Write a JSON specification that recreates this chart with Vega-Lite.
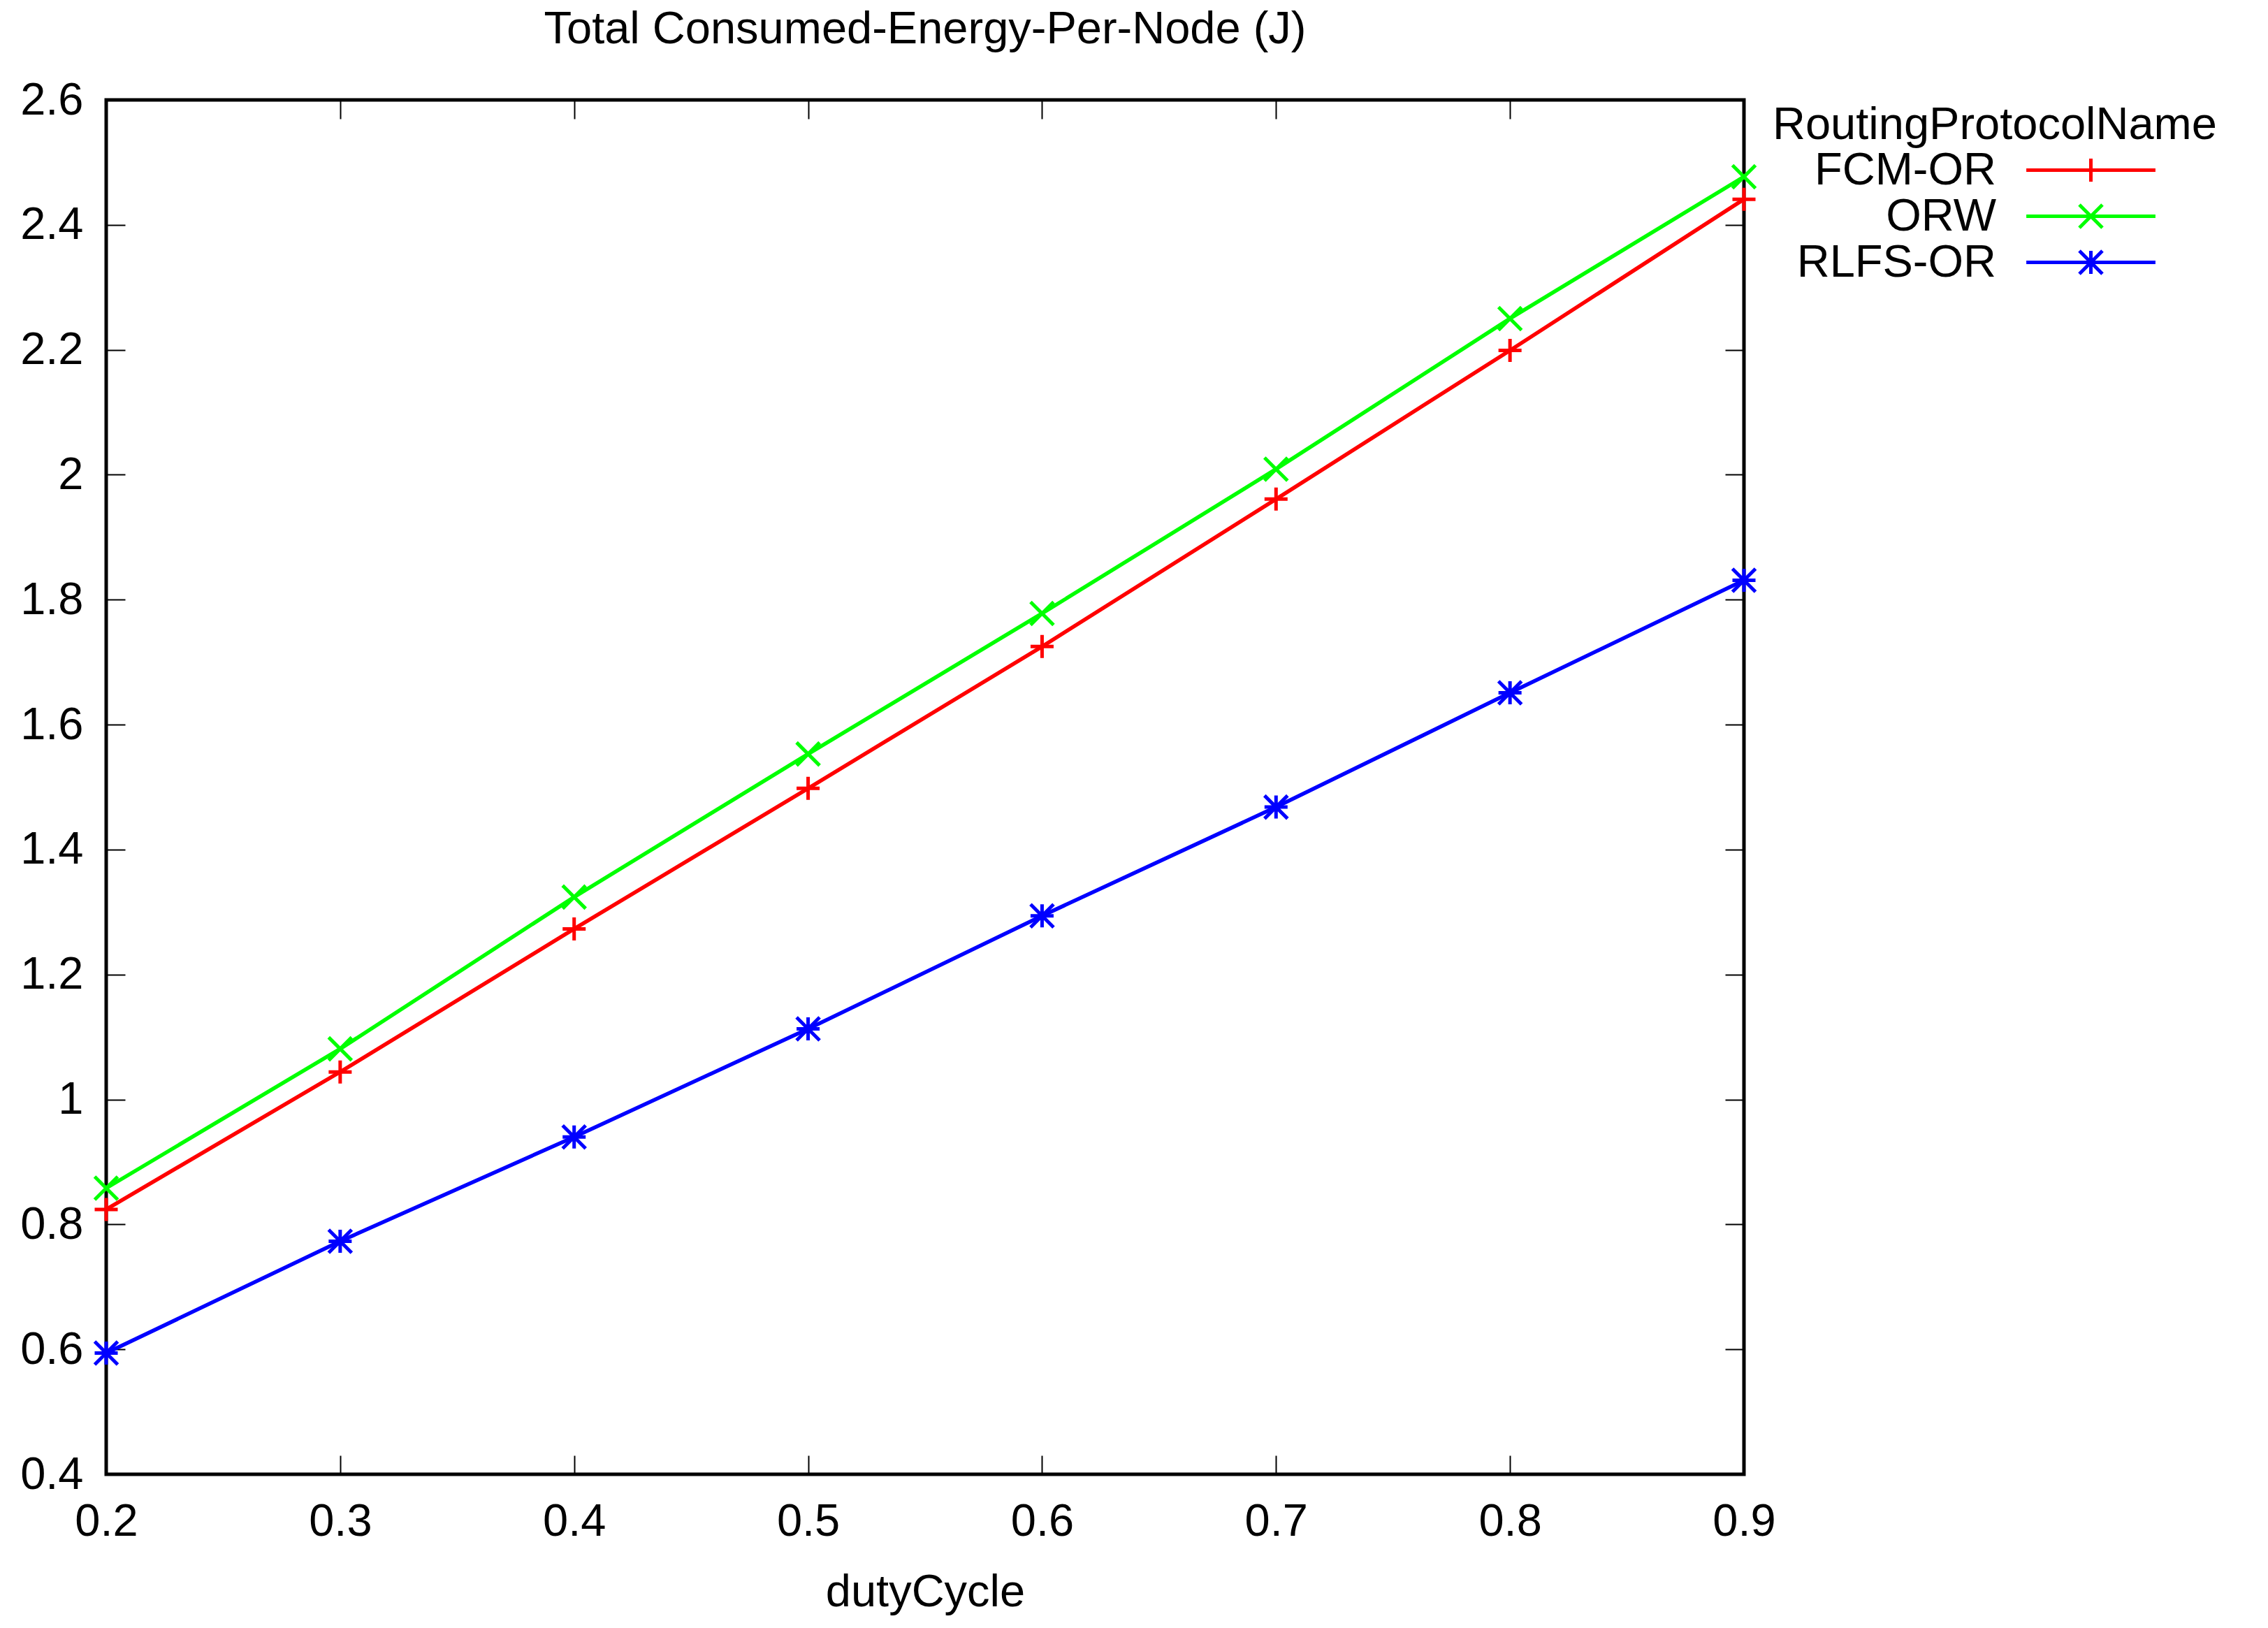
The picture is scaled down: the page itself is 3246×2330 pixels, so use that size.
{
  "$schema": "https://vega.github.io/schema/vega-lite/v6.json",
  "width": 2344,
  "height": 1967,
  "padding": {"left": 28, "top": 10, "right": 5, "bottom": 5},
  "background": "white",
  "title": {"text": "Total Consumed-Energy-Per-Node (J)", "fontSize": 65, "font": "Liberation Sans", "fontWeight": "normal", "color": "black", "offset": 35, "anchor": "middle", "limit": 3000},
  "config": {
    "font": "Liberation Sans",
    "view": {"stroke": "black", "strokeWidth": 5},
    "axis": {"grid": false, "domain": false, "labelFlush": false, "labelFont": "Liberation Sans", "labelFontSize": 65, "labelColor": "black", "titleFont": "Liberation Sans", "titleFontSize": 65, "titleFontWeight": "normal", "titleColor": "black", "tickColor": "black", "tickWidth": 2, "tickSize": -27},
    "legend": {"labelFont": "Liberation Sans", "titleFont": "Liberation Sans"}
  },
  "data": {"values": [
    {"dutyCycle": 0.2, "protocol": "FCM-OR", "energy": 0.824},
    {"dutyCycle": 0.3, "protocol": "FCM-OR", "energy": 1.044},
    {"dutyCycle": 0.4, "protocol": "FCM-OR", "energy": 1.273},
    {"dutyCycle": 0.5, "protocol": "FCM-OR", "energy": 1.498},
    {"dutyCycle": 0.6, "protocol": "FCM-OR", "energy": 1.725},
    {"dutyCycle": 0.7, "protocol": "FCM-OR", "energy": 1.961},
    {"dutyCycle": 0.8, "protocol": "FCM-OR", "energy": 2.199},
    {"dutyCycle": 0.9, "protocol": "FCM-OR", "energy": 2.441},
    {"dutyCycle": 0.2, "protocol": "ORW", "energy": 0.858},
    {"dutyCycle": 0.3, "protocol": "ORW", "energy": 1.081},
    {"dutyCycle": 0.4, "protocol": "ORW", "energy": 1.324},
    {"dutyCycle": 0.5, "protocol": "ORW", "energy": 1.553},
    {"dutyCycle": 0.6, "protocol": "ORW", "energy": 1.778},
    {"dutyCycle": 0.7, "protocol": "ORW", "energy": 2.009},
    {"dutyCycle": 0.8, "protocol": "ORW", "energy": 2.250},
    {"dutyCycle": 0.9, "protocol": "ORW", "energy": 2.477},
    {"dutyCycle": 0.2, "protocol": "RLFS-OR", "energy": 0.594},
    {"dutyCycle": 0.3, "protocol": "RLFS-OR", "energy": 0.773},
    {"dutyCycle": 0.4, "protocol": "RLFS-OR", "energy": 0.940},
    {"dutyCycle": 0.5, "protocol": "RLFS-OR", "energy": 1.113},
    {"dutyCycle": 0.6, "protocol": "RLFS-OR", "energy": 1.294},
    {"dutyCycle": 0.7, "protocol": "RLFS-OR", "energy": 1.468},
    {"dutyCycle": 0.8, "protocol": "RLFS-OR", "energy": 1.651},
    {"dutyCycle": 0.9, "protocol": "RLFS-OR", "energy": 1.831}
  ]},
  "layer": [
    {
      "mark": {"type": "line", "strokeWidth": 5.5},
      "encoding": {
        "x": {"field": "dutyCycle", "type": "quantitative", "scale": {"domain": [0.2, 0.9], "nice": false, "zero": false},
              "axis": {"title": "dutyCycle", "values": [0.2, 0.3, 0.4, 0.5, 0.6, 0.7, 0.8, 0.9], "format": ".1f", "labelPadding": 63, "titlePadding": 37}},
        "y": {"field": "energy", "type": "quantitative", "scale": {"domain": [0.4, 2.6], "nice": false, "zero": false},
              "axis": {"title": null, "values": [0.4, 0.6, 0.8, 1.0, 1.2, 1.4, 1.6, 1.8, 2.0, 2.2, 2.4, 2.6], "format": ".2~f", "labelPadding": 60}},
        "color": {"field": "protocol", "type": "nominal",
                  "scale": {"domain": ["FCM-OR", "ORW", "RLFS-OR"], "range": ["#ff0000", "#00ff00", "#0000ff"]},
                  "legend": {"title": "RoutingProtocolName", "orient": "none", "legendX": 2385, "legendY": 5,
                             "titleFontSize": 65, "titleFontWeight": "normal", "titleColor": "black", "titlePadding": -2, "titleLimit": 2000,
                             "labelFontSize": 65, "labelColor": "black", "labelAlign": "right", "labelLimit": 2000,
                             "symbolSize": 1089, "symbolStrokeWidth": 5, "symbolOffset": 423, "labelOffset": -168, "rowPadding": -1,
                             "encode": {"symbols": {"update": {
                               "shape": {"signal": "datum.value === 'FCM-OR' ? 'M-5.6,0L5.6,0M0,-1L0,1' : datum.value === 'ORW' ? 'M-5.6,0L5.6,0M-1,-1L1,1M-1,1L1,-1' : 'M-5.6,0L5.6,0M0,-1L0,1M-1,-1L1,1M-1,1L1,-1'"},
                               "fill": {"value": "transparent"},
                               "strokeWidth": {"value": 5}
                             }}}}}
      }
    },
    {
      "mark": {"type": "point", "filled": false, "strokeWidth": 5, "size": 1089, "opacity": 1},
      "encoding": {
        "x": {"field": "dutyCycle", "type": "quantitative", "scale": {"domain": [0.2, 0.9], "nice": false, "zero": false},
              "axis": {"orient": "top", "title": null, "labels": false, "values": [0.2, 0.3, 0.4, 0.5, 0.6, 0.7, 0.8, 0.9]}},
        "y": {"field": "energy", "type": "quantitative", "scale": {"domain": [0.4, 2.6], "nice": false, "zero": false},
              "axis": {"orient": "right", "title": null, "labels": false, "values": [0.4, 0.6, 0.8, 1.0, 1.2, 1.4, 1.6, 1.8, 2.0, 2.2, 2.4, 2.6]}},
        "color": {"field": "protocol", "type": "nominal", "legend": null},
        "shape": {"field": "protocol", "type": "nominal",
                  "scale": {"domain": ["FCM-OR", "ORW", "RLFS-OR"], "range": ["M-1,0L1,0M0,-1L0,1", "M-1,-1L1,1M-1,1L1,-1", "M-1,0L1,0M0,-1L0,1M-1,-1L1,1M-1,1L1,-1"]},
                  "legend": null}
      }
    }
  ],
  "resolve": {"axis": {"x": "independent", "y": "independent"}, "legend": {"color": "independent"}}
}
